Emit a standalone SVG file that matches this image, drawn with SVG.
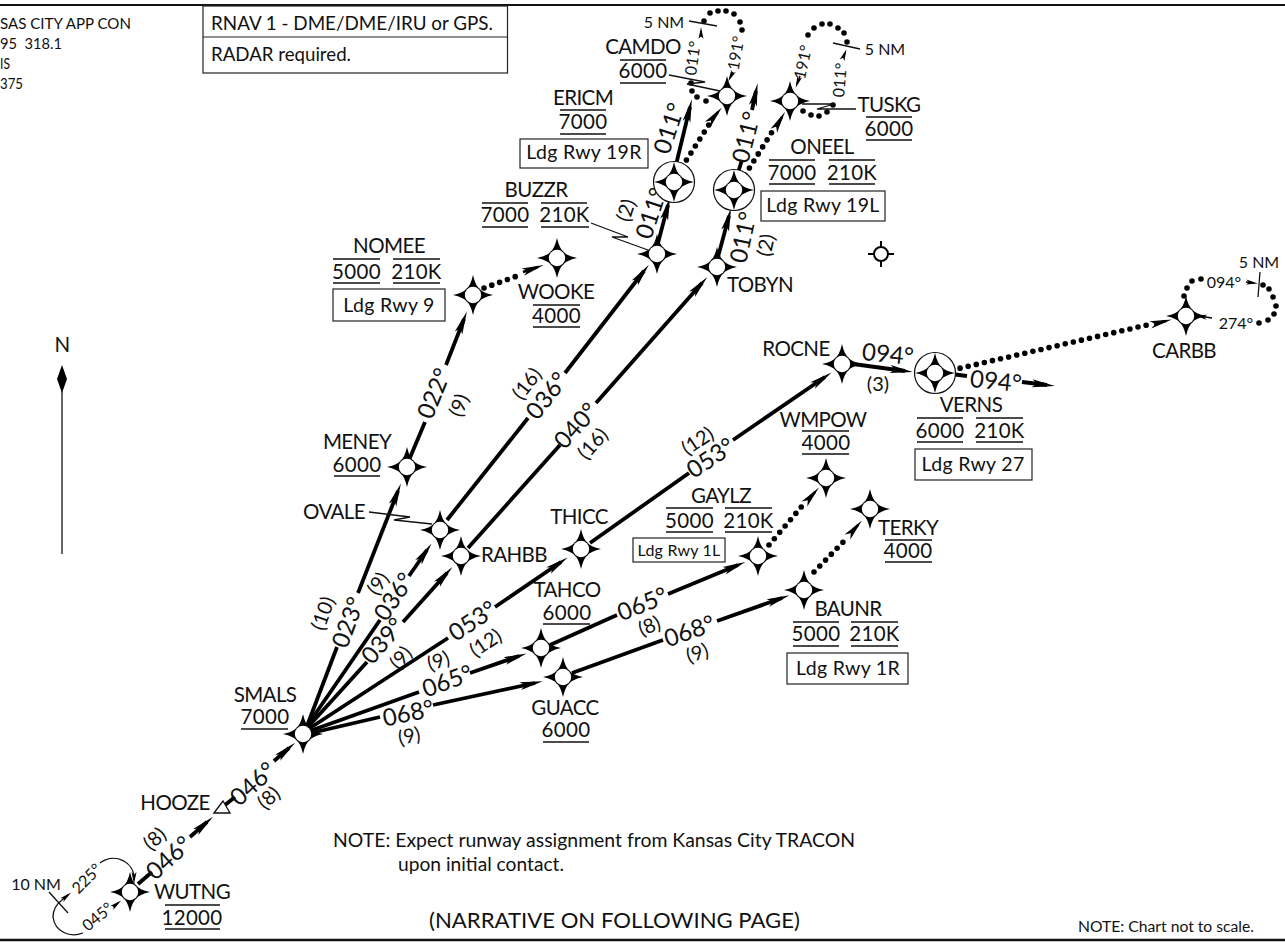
<svg xmlns="http://www.w3.org/2000/svg" width="1285" height="942" viewBox="0 0 1285 942">
<style>
text{font-family:Lato,"Liberation Sans",sans-serif;fill:#111}
.n{font-size:20.5px;text-anchor:middle;letter-spacing:-.6px}
.v{font-size:20.5px;text-anchor:middle;letter-spacing:.3px}
.b{font-size:19.5px;text-anchor:middle;letter-spacing:.3px}
.d{font-size:24px;text-anchor:middle;dominant-baseline:central}
.p{font-size:20px;text-anchor:middle;dominant-baseline:central}
.h{font-size:16px;text-anchor:middle;dominant-baseline:central}
.l{stroke:#111;stroke-width:1.3;fill:none}
.u{stroke:#111;stroke-width:1.3;fill:none}
.box{fill:#fff;stroke:#222;stroke-width:1.2}
.t{stroke:#000;stroke-width:3.8;fill:none}
.ta{stroke:#000;stroke-width:3.8;fill:none;marker-end:url(#ah)}
.da{stroke:#000;stroke-width:2.5;fill:none;marker-end:url(#ah2)}
.sa{stroke:#000;stroke-width:1.6;fill:none;marker-end:url(#ah3)}
.dot{stroke:#000;stroke-width:5.6;stroke-linecap:round;fill:none}
.dl{stroke:#000;stroke-width:5.6;stroke-linecap:round;stroke-dasharray:0 8.3;fill:none}
.ring{fill:#fff;stroke:#111;stroke-width:1.2}
</style>
<defs>
<marker id="ah" markerUnits="userSpaceOnUse" markerWidth="40" markerHeight="14" refX="20" refY="7" orient="auto" overflow="visible"><path d="M5,3 L28,7 L5,11 L10,7Z" fill="#000"/></marker>
<marker id="ah2" markerUnits="userSpaceOnUse" markerWidth="40" markerHeight="14" refX="20" refY="7" orient="auto" overflow="visible"><path d="M4,3.2 L26,7 L4,10.8 L9,7Z" fill="#000"/></marker>
<marker id="ah3" markerUnits="userSpaceOnUse" markerWidth="24" markerHeight="10" refX="12" refY="5" orient="auto" overflow="visible"><path d="M4,2.5 L16,5 L4,7.5 L7,5Z" fill="#000"/></marker>
<g id="star"><path d="M0,-20 Q2.5,-9 6.5,-6.5 Q9,-2.5 20,0 Q9,2.5 6.5,6.5 Q2.5,9 0,20 Q-2.5,9 -6.5,6.5 Q-9,2.5 -20,0 Q-9,-2.5 -6.5,-6.5 Q-2.5,-9 0,-20Z" fill="#000"/><circle r="8.2" fill="#fff"/></g>
</defs>
<rect width="1285" height="942" fill="#fff"/>
<path d="M0,5H1285" stroke="#111" stroke-width="2.2"/>
<path d="M0,940H1285" stroke="#111" stroke-width="2.6"/>

<g id="frequency-text">
<text x="0" y="29" font-size="16" textLength="131" lengthAdjust="spacingAndGlyphs">SAS CITY APP CON</text>
<text x="0" y="49" font-size="16" textLength="62" lengthAdjust="spacingAndGlyphs" xml:space="preserve">95  318.1</text>
<text x="0" y="69" font-size="16" textLength="10" lengthAdjust="spacingAndGlyphs">IS</text>
<text x="0" y="89" font-size="16" textLength="23" lengthAdjust="spacingAndGlyphs">375</text>
</g>
<g id="rnav-box">
<rect class="box" x="203" y="6" width="304.500" height="67"/>
<path class="box" d="M203,37H507.500"/>
<text x="211" y="30" font-size="20" textLength="282" lengthAdjust="spacingAndGlyphs">RNAV 1 - DME/DME/IRU or GPS.</text>
<text x="211" y="61" font-size="20" textLength="140" lengthAdjust="spacingAndGlyphs">RADAR required.</text>
</g>
<g id="north">
<text class="n" x="62" y="352">N</text>
<path d="M62,365 L67,379 L62,393 L57,379Z" fill="#000"/>
<path class="l" d="M62,390V554"/>
</g>

<g id="connectors">
<path class="t" d="M138,884L152,872"/><path class="ta" d="M190,837L207,822"/>
<path class="t" d="M225,805L235,797"/><path class="ta" d="M274,761L289,748"/>
<path class="t" d="M307,726L337,647"/><path class="ta" d="M358,593L398,491"/>
<path class="t" d="M409,460L425,422"/><path class="ta" d="M446,365L464,319"/>
<path class="t" d="M307,726L380,620"/><path class="ta" d="M409,576L427,550"/>
<path class="t" d="M447,520L528,418"/><path class="ta" d="M565,373L644,271"/>
<path class="t" d="M307,728L367,662"/><path class="ta" d="M403,622L447,573"/>
<path class="t" d="M468,548L560,445"/><path class="ta" d="M596,403L702,283"/>
<path class="t" d="M307,730L448,638"/><path class="ta" d="M495,607L561,562"/>
<path class="t" d="M590,543L689,473"/><path class="ta" d="M733,440L825,377"/>
<path class="t" d="M307,732L419,692"/><path class="ta" d="M470,673L519,656"/>
<path class="t" d="M550,645L617,615"/><path class="ta" d="M668,594L738,565"/>
<path class="t" d="M307,734L380,717"/><path class="ta" d="M433,705L535,683"/>
<path class="t" d="M572,673L663,640"/><path class="ta" d="M717,621L782,598"/>
<path class="ta" d="M658,243L668,205"/><path class="ta" d="M674,173L690,107"/>
<path class="ta" d="M718,257L729,216"/><path class="t" d="M735,182L742,160"/><path class="ta" d="M752,110L756,91"/>
<path class="ta" d="M853,364L905,371"/><path class="t" d="M943,373L967,376"/><path class="ta" d="M1022,382L1047,385"/>
<path class="dl" d="M484,288L517,276"/><path class="da" d="M523,272L538,267"/>
<path class="dl" d="M682,167L710,123"/><path class="da" d="M713,118L718,112"/>
<path class="dl" d="M745,175L772,132"/><path class="da" d="M776,127L782,117"/>
<path class="dl" d="M952,370L1147,325"/><path class="da" d="M1154,324L1166,321"/>
<path class="dl" d="M769,545L803,505"/><path class="da" d="M808,500L815,492"/>
<path class="dl" d="M814,572L847,538"/><path class="da" d="M851,533L858,525"/>
<path class="dot" d="M706,101h0M697,97h0M692,91h0M691,83h0M704,21h0M710,13h0M718,11h0M726,11h0M734,14h0M740,22h0M742,30h0"/>
<path class="dot" d="M803,111h0M811,115h0M819,116h0M827,112h0M833,105h0M847,42h0M844,33h0M838,28h0M830,24h0M822,24h0M814,28h0M808,35h0"/>
<path class="dot" d="M1184,296h0M1187,288h0M1192,281h0M1201,279h0M1263,285h0M1269,289h0M1273,297h0M1276,306h0M1274,314h0M1268,320h0M1259,323h0"/>
<path class="sa" d="M701,37L701,31"/><path class="sa" d="M733,72L730,78"/>
<path class="sa" d="M843,58L845,53"/><path class="sa" d="M800,76L797,84"/>
<path class="sa" d="M1246,282L1254,283"/><path class="sa" d="M1212,318L1199,316"/>
<path class="sa" d="M113,907L118,903"/>
<path class="l" d="M83,933C70,938 55,932 53,917C53,908 58,903 62,900"/><path class="sa" d="M62,900L68,895"/>
<path class="l" d="M100,863C115,852 135,862 134,880"/><path class="sa" d="M134,878L134,880"/>
<path class="l" d="M689,21L717,26M833,43L860,49M1260,272L1258,297M49,892L68,913"/>
<path class="l" d="M369,512L410,517L394,520L432,524"/>
<path class="l" d="M591,223L628,237L612,237L648,250"/>
<path class="l" d="M669,75L705,82L687,84L720,91"/>
<path class="l" d="M856,109L817,109L834,104L802,104"/>
</g>

<g id="leg-labels">
<text class="d" transform="translate(168 857) rotate(-42)">046°</text><text class="p" transform="translate(154 838) rotate(-42)">(8)</text>
<text class="d" transform="translate(252 783) rotate(-42)">046°</text><text class="p" transform="translate(268 797) rotate(-42)">(8)</text>
<text class="d" transform="translate(347 622) rotate(-70)">023°</text><text class="p" transform="translate(322 613) rotate(-70)">(10)</text>
<text class="d" transform="translate(393 596) rotate(-56)">036°</text><text class="p" transform="translate(377 583) rotate(-56)">(9)</text>
<text class="d" transform="translate(382 640) rotate(-49)">039°</text><text class="p" transform="translate(400 657) rotate(-49)">(9)</text>
<text class="d" transform="translate(472 620) rotate(-34)">053°</text><text class="p" transform="translate(485 642) rotate(-34)">(12)</text>
<text class="d" transform="translate(447 680) rotate(-20)">065°</text><text class="p" transform="translate(438 660) rotate(-20)">(9)</text>
<text class="d" transform="translate(408 712) rotate(-12)">068°</text><text class="p" transform="translate(409 735) rotate(-12)">(9)</text>
<text class="d" transform="translate(433 393) rotate(-68)">022°</text><text class="p" transform="translate(458 405) rotate(-68)">(9)</text>
<text class="d" transform="translate(546 395) rotate(-52)">036°</text><text class="p" transform="translate(526 383) rotate(-52)">(16)</text>
<text class="d" transform="translate(575 425) rotate(-48)">040°</text><text class="p" transform="translate(592 443) rotate(-48)">(16)</text>
<text class="d" transform="translate(710 457) rotate(-34)">053°</text><text class="p" transform="translate(697 440) rotate(-34)">(12)</text>
<text class="d" transform="translate(642 603) rotate(-22)">065°</text><text class="p" transform="translate(649 625) rotate(-22)">(8)</text>
<text class="d" transform="translate(689 630) rotate(-19)">068°</text><text class="p" transform="translate(697 652) rotate(-19)">(9)</text>
<text class="d" transform="translate(650 213) rotate(-72)">011°</text><text class="p" transform="translate(625 210) rotate(-72)">(2)</text>
<text class="d" transform="translate(668 128) rotate(-72)">011°</text>
<text class="d" transform="translate(742 237) rotate(-78)">011°</text><text class="p" transform="translate(765 245) rotate(-78)">(2)</text>
<text class="d" transform="translate(745 137) rotate(-76)">011°</text>
<text class="d" transform="translate(888 353) rotate(6)">094°</text><text class="p" x="878" y="383">(3)</text>
<text class="d" transform="translate(996 380) rotate(6)">094°</text>
<text class="h" transform="translate(692 58) rotate(-82)">011°</text>
<text class="h" transform="translate(735 53) rotate(-80)">191°</text>
<text class="h" transform="translate(802 62) rotate(-78)">191°</text>
<text class="h" transform="translate(839 80) rotate(-85)">011°</text>
<text class="h" x="1224" y="281">094°</text>
<text class="h" x="1236" y="322">274°</text>
<text class="h" transform="translate(86 878) rotate(-45)">225°</text>
<text class="h" transform="translate(97 916) rotate(-40)">045°</text>
<text class="h" x="36" y="883">10 NM</text>
<text class="h" x="664" y="21">5 NM</text>
<text class="h" x="885" y="48">5 NM</text>
<text class="h" x="1259" y="261">5 NM</text>
</g>

<g id="WUTNG"><use href="#star" x="130" y="892"/><text class="n" x="192" y="899">WUTNG</text><path class="u" d="M165,905H220M165,929H220"/><text class="v" x="192" y="925">12000</text></g>
<g id="HOOZE"><path d="M214,813L223,801L230,813Z" fill="#fff" stroke="#111" stroke-width="1.3"/><text class="n" x="175" y="810">HOOZE</text></g>
<g id="SMALS"><use href="#star" x="303" y="734"/><text class="n" x="265" y="702">SMALS</text><text class="v" x="265" y="724">7000</text><path class="u" d="M241,729H288"/></g>
<g id="MENEY"><use href="#star" x="407" y="467"/><text class="n" x="357" y="449">MENEY</text><text class="v" x="357" y="472">6000</text><path class="u" d="M334,476H380"/></g>
<g id="OVALE"><use href="#star" x="440" y="530"/><text class="n" x="334" y="519">OVALE</text></g>
<g id="RAHBB"><use href="#star" x="461" y="556"/><text class="n" x="514" y="562">RAHBB</text></g>
<g id="THICC"><use href="#star" x="581" y="549"/><text class="n" x="579" y="524">THICC</text></g>
<g id="TAHCO"><use href="#star" x="541" y="648"/><text class="n" x="567" y="597">TAHCO</text><text class="v" x="567" y="620">6000</text><path class="u" d="M543,624H590"/></g>
<g id="GUACC"><use href="#star" x="563" y="677"/><text class="n" x="565" y="715">GUACC</text><text class="v" x="566" y="737">6000</text><path class="u" d="M543,742H589"/></g>
<g id="GAYLZ"><use href="#star" x="758" y="556"/><text class="n" x="721" y="503">GAYLZ</text><path class="u" d="M666,508H713M725,508H772M666,532H713M725,532H772"/><text class="v" x="689.500" y="528">5000</text><text class="v" x="748.500" y="528">210K</text><rect class="box" x="633" y="538" width="92" height="24"/><text class="b" x="679" y="556" style="font-size:16px;letter-spacing:.2px">Ldg Rwy 1L</text></g>
<g id="BAUNR"><use href="#star" x="804" y="590"/><text class="n" x="848" y="616">BAUNR</text><path class="u" d="M793,622H839M851,622H898M793,646H839M851,646H898"/><text class="v" x="816" y="641">5000</text><text class="v" x="874.500" y="641">210K</text><rect class="box" x="787" y="653" width="121" height="31"/><text class="b" x="848" y="675">Ldg Rwy 1R</text></g>
<g id="TERKY"><use href="#star" x="870" y="509"/><text class="n" x="908" y="535">TERKY</text><path class="u" d="M885,540H932M885,562H932"/><text class="v" x="908" y="558">4000</text></g>
<g id="WMPOW"><use href="#star" x="826" y="478"/><text class="n" x="823" y="427">WMPOW</text><path class="u" d="M802,431H849M802,454H849"/><text class="v" x="826" y="450">4000</text></g>
<g id="NOMEE"><use href="#star" x="473" y="295"/><text class="n" x="389" y="253">NOMEE</text><path class="u" d="M333,259H380M393,259H440M333,283H380M393,283H440"/><text class="v" x="356.500" y="279">5000</text><text class="v" x="416.500" y="279">210K</text><rect class="box" x="333" y="289" width="112" height="32"/><text class="b" x="389" y="312">Ldg Rwy 9</text></g>
<g id="WOOKE"><use href="#star" x="557" y="258"/><text class="n" x="556" y="299">WOOKE</text><path class="u" d="M533,305H580M533,327H580"/><text class="v" x="556.500" y="323">4000</text></g>
<g id="BUZZR"><use href="#star" x="657" y="254"/><text class="n" x="536" y="197">BUZZR</text><path class="u" d="M482,203H528M541,203H587M482,227H528M541,227H589"/><text class="v" x="505" y="222">7000</text><text class="v" x="564.500" y="222">210K</text></g>
<g id="TOBYN"><use href="#star" x="717" y="267"/><text class="n" x="760" y="292">TOBYN</text></g>
<g id="ERICM"><circle class="ring" cx="674" cy="182" r="20.500"/><use href="#star" x="674" y="182"/><text class="n" x="583" y="105">ERICM</text><path class="u" d="M560,110H606M560,134H606"/><text class="v" x="583" y="129">7000</text><rect class="box" x="520" y="139" width="128" height="29"/><text class="b" x="584" y="159">Ldg Rwy 19R</text></g>
<g id="ONEEL"><circle class="ring" cx="734" cy="190" r="20.500"/><use href="#star" x="734" y="190"/><text class="n" x="822" y="154">ONEEL</text><path class="u" d="M769,160H815M829,160H875M769,184H815M829,184H875"/><text class="v" x="792" y="180">7000</text><text class="v" x="852" y="180">210K</text><rect class="box" x="761" y="191" width="124" height="30"/><text class="b" x="823" y="212">Ldg Rwy 19L</text></g>
<g id="CAMDO"><use href="#star" x="727" y="96"/><text class="n" x="643" y="54">CAMDO</text><path class="u" d="M620,60H666M620,83H666"/><text class="v" x="643" y="78">6000</text></g>
<g id="TUSKG"><use href="#star" x="790" y="101"/><text class="n" x="889" y="112">TUSKG</text><path class="u" d="M866,117H912M866,140H912"/><text class="v" x="889" y="136">6000</text></g>
<g id="ROCNE"><use href="#star" x="842" y="364"/><text class="n" x="796" y="356">ROCNE</text></g>
<g id="VERNS"><circle class="ring" cx="935" cy="373" r="20.500"/><use href="#star" x="935" y="373"/><text class="n" x="971" y="412">VERNS</text><path class="u" d="M917,418H963M976,418H1023M917,442H963M976,442H1023"/><text class="v" x="940" y="438">6000</text><text class="v" x="999.500" y="438">210K</text><rect class="box" x="915" y="449" width="117" height="31"/><text class="b" x="973" y="471">Ldg Rwy 27</text></g>
<g id="CARBB"><use href="#star" x="1186" y="316"/><text class="n" x="1184" y="358">CARBB</text></g>
<g id="fix"><circle cx="881" cy="254" r="7" fill="#fff" stroke="#000" stroke-width="2"/><path d="M881,241V247M881,261V267M868,254H874M888,254H894" stroke="#000" stroke-width="2"/></g>

<g id="notes">
<text x="333" y="847" font-size="19.500" textLength="522" lengthAdjust="spacingAndGlyphs">NOTE: Expect runway assignment from Kansas City TRACON</text>
<text x="398" y="871" font-size="19.500" textLength="166" lengthAdjust="spacingAndGlyphs">upon initial contact.</text>
<text x="429" y="928" font-size="21" textLength="371" lengthAdjust="spacingAndGlyphs">(NARRATIVE ON FOLLOWING PAGE)</text>
<text x="1078" y="932" font-size="15.500" textLength="176" lengthAdjust="spacingAndGlyphs">NOTE: Chart not to scale.</text>
</g>
</svg>
